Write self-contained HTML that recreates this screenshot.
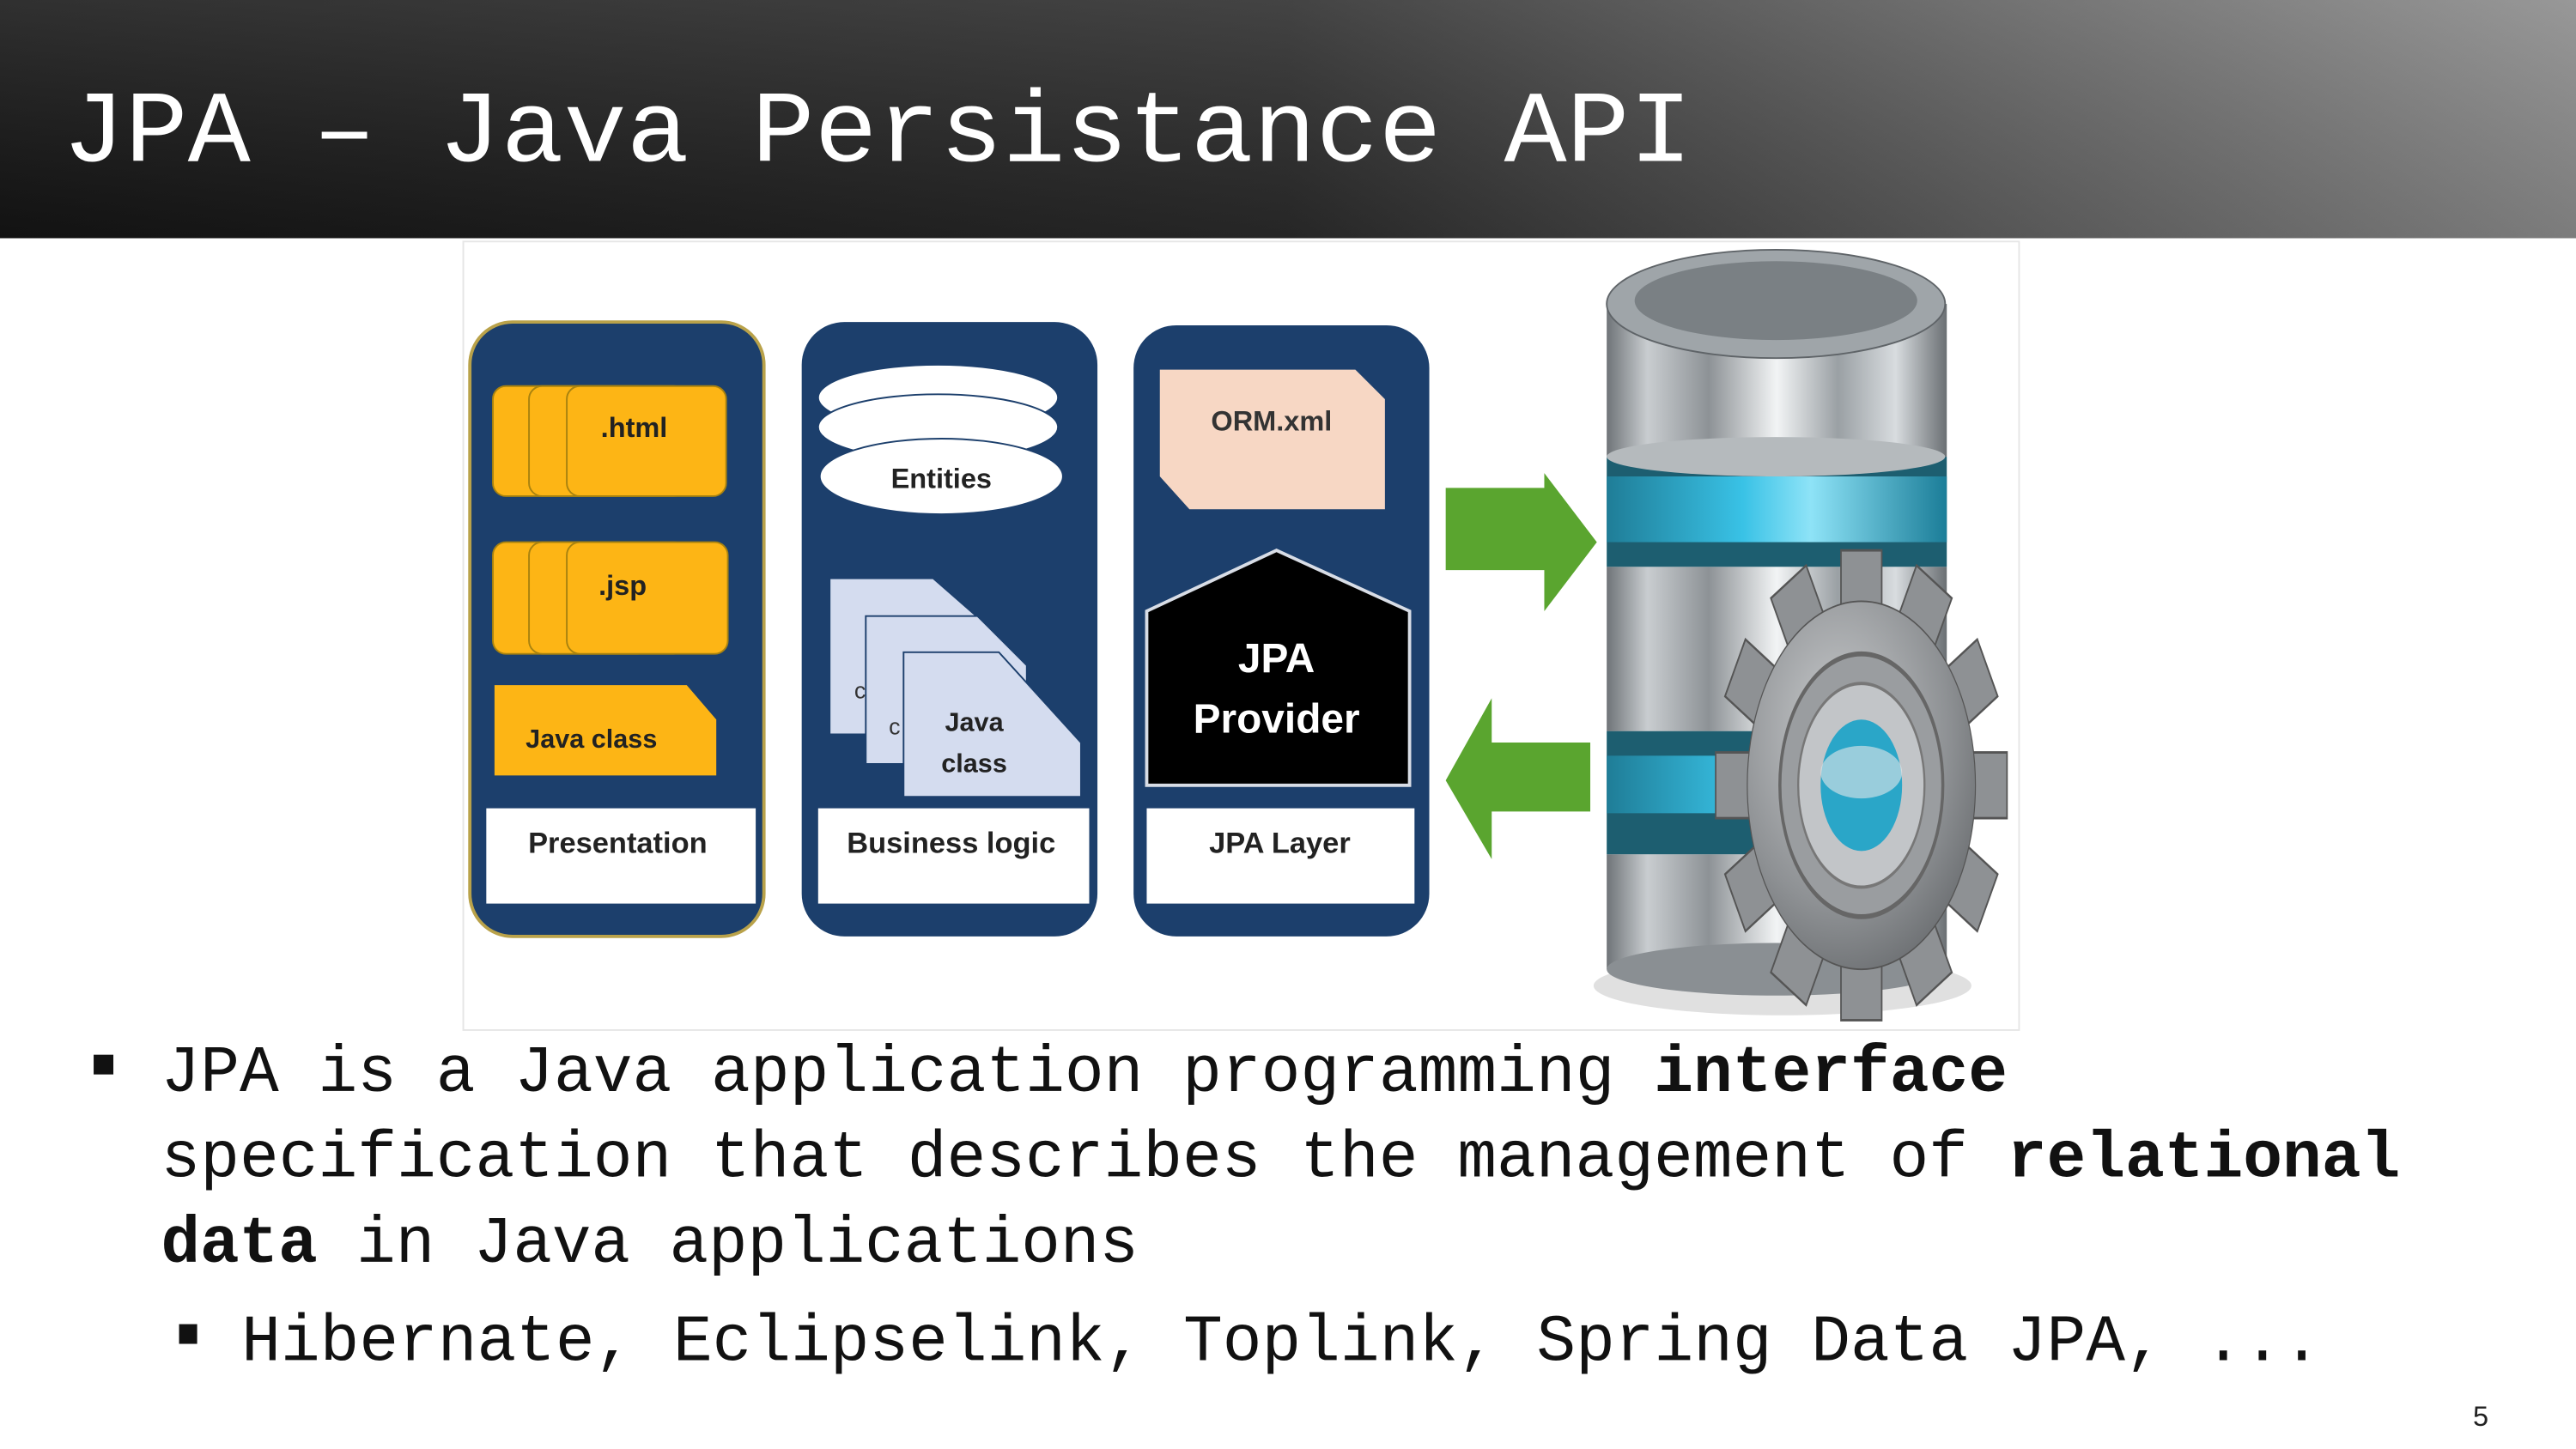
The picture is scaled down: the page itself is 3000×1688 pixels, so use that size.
<!DOCTYPE html>
<html><head><meta charset="utf-8"><style>
html,body{margin:0;padding:0;background:#fff;}
svg{display:block;}
</style></head><body>
<svg width="3000" height="1688" viewBox="0 0 1568 882" preserveAspectRatio="none" xmlns="http://www.w3.org/2000/svg">
<defs>
<linearGradient id="hdr" x1="0" y1="0" x2="1" y2="0">
<stop offset="0" stop-color="#141414"/><stop offset="0.5" stop-color="#2a2a2a"/><stop offset="1" stop-color="#8a8a8a"/>
</linearGradient>
<linearGradient id="hdrv" x1="0" y1="0" x2="0" y2="1">
<stop offset="0" stop-color="#fff" stop-opacity="0.12"/><stop offset="1" stop-color="#000" stop-opacity="0.1"/>
</linearGradient>
<linearGradient id="metal" x1="0" y1="0" x2="1" y2="0">
<stop offset="0" stop-color="#6f7478"/><stop offset="0.12" stop-color="#c9cdd0"/><stop offset="0.3" stop-color="#8d9296"/><stop offset="0.5" stop-color="#f2f4f5"/><stop offset="0.68" stop-color="#9aa0a4"/><stop offset="0.85" stop-color="#d8dcdf"/><stop offset="1" stop-color="#6a6f73"/>
</linearGradient>
<linearGradient id="blue" x1="0" y1="0" x2="1" y2="0">
<stop offset="0" stop-color="#1f7d97"/><stop offset="0.4" stop-color="#39c2e6"/><stop offset="0.6" stop-color="#8ee3f7"/><stop offset="1" stop-color="#1b7d98"/>
</linearGradient>
<radialGradient id="gear" cx="0.4" cy="0.35" r="0.8">
<stop offset="0" stop-color="#c8cacc"/><stop offset="0.6" stop-color="#8e9194"/><stop offset="1" stop-color="#5e6164"/>
</radialGradient>
</defs>
<rect width="1568" height="882" fill="#fff"/>
<rect width="1568" height="145" fill="url(#hdr)"/>
<rect width="1568" height="145" fill="url(#hdrv)"/>
<text x="38" y="98" font-family="Liberation Mono, monospace" font-size="62" fill="#fff" textLength="992" lengthAdjust="spacingAndGlyphs">JPA – Java Persistance API</text>

<rect x="282" y="147" width="947" height="480" fill="#fff" stroke="#e6e6e6" stroke-width="1"/>

<!-- panel 1 -->
<rect x="286" y="196" width="179" height="374" rx="26" fill="#1c3f6c" stroke="#b9a24a" stroke-width="2"/>
<rect x="300" y="235" width="96" height="67" rx="8" fill="#fdb515" stroke="#a8820f"/>
<rect x="322" y="235" width="96" height="67" rx="8" fill="#fdb515" stroke="#a8820f"/>
<rect x="345" y="235" width="97" height="67" rx="8" fill="#fdb515" stroke="#a8820f"/>
<text x="386" y="266" font-family="Liberation Sans, sans-serif" font-weight="bold" font-size="17" fill="#222" text-anchor="middle">.html</text>
<rect x="300" y="330" width="96" height="68" rx="8" fill="#fdb515" stroke="#a8820f"/>
<rect x="322" y="330" width="96" height="68" rx="8" fill="#fdb515" stroke="#a8820f"/>
<rect x="345" y="330" width="98" height="68" rx="8" fill="#fdb515" stroke="#a8820f"/>
<text x="379" y="362" font-family="Liberation Sans, sans-serif" font-weight="bold" font-size="17" fill="#222" text-anchor="middle">.jsp</text>
<polygon points="301,417 418,417 436,438 436,472 301,472" fill="#fdb515"/>
<text x="360" y="455" font-family="Liberation Sans, sans-serif" font-weight="bold" font-size="16" fill="#222" text-anchor="middle">Java class</text>
<rect x="296" y="492" width="164" height="58" fill="#fff"/>
<text x="376" y="519" font-family="Liberation Sans, sans-serif" font-weight="bold" font-size="18" fill="#222" text-anchor="middle">Presentation</text>

<!-- panel 2 -->
<rect x="488" y="196" width="180" height="374" rx="26" fill="#1c3f6c"/>
<ellipse cx="571" cy="242" rx="73" ry="20" fill="#fff" stroke="#1c3f6c"/>
<ellipse cx="571" cy="260" rx="73" ry="20" fill="#fff" stroke="#1c3f6c"/>
<ellipse cx="573" cy="290" rx="74" ry="23" fill="#fff" stroke="#1c3f6c"/>
<text x="573" y="297" font-family="Liberation Sans, sans-serif" font-weight="bold" font-size="17" fill="#222" text-anchor="middle">Entities</text>
<polygon points="505,352 568,352 600,380 600,447 505,447" fill="#d4dcef" stroke="#1c3f6c"/>
<polygon points="527,375 595,375 625,405 625,465 527,465" fill="#d4dcef" stroke="#1c3f6c"/>
<polygon points="550,397 608,397 658,452 658,485 550,485" fill="#d4dcef" stroke="#1c3f6c"/>
<text x="520" y="425" font-family="Liberation Sans, sans-serif" font-size="14" fill="#333">c</text>
<text x="541" y="447" font-family="Liberation Sans, sans-serif" font-size="14" fill="#333">c</text>
<text x="593" y="445" font-family="Liberation Sans, sans-serif" font-weight="bold" font-size="16" fill="#222" text-anchor="middle">Java</text>
<text x="593" y="470" font-family="Liberation Sans, sans-serif" font-weight="bold" font-size="16" fill="#222" text-anchor="middle">class</text>
<rect x="498" y="492" width="165" height="58" fill="#fff"/>
<text x="579" y="519" font-family="Liberation Sans, sans-serif" font-weight="bold" font-size="18" fill="#222" text-anchor="middle">Business logic</text>

<!-- panel 3 -->
<rect x="690" y="198" width="180" height="372" rx="26" fill="#1c3f6c"/>
<polygon points="706,225 825,225 843,243 843,310 724,310 706,290" fill="#f7d7c4"/>
<text x="774" y="262" font-family="Liberation Sans, sans-serif" font-weight="bold" font-size="17" fill="#333" text-anchor="middle">ORM.xml</text>
<polygon points="698,372 777,335 858,372 858,478 698,478" fill="#000" stroke="#d8dde6" stroke-width="2"/>
<text x="777" y="409" font-family="Liberation Sans, sans-serif" font-weight="bold" font-size="25" fill="#fff" text-anchor="middle">JPA</text>
<text x="777" y="446" font-family="Liberation Sans, sans-serif" font-weight="bold" font-size="25" fill="#fff" text-anchor="middle">Provider</text>
<rect x="698" y="492" width="163" height="58" fill="#fff"/>
<text x="779" y="519" font-family="Liberation Sans, sans-serif" font-weight="bold" font-size="18" fill="#222" text-anchor="middle">JPA Layer</text>

<!-- arrows -->
<polygon points="880,297 940,297 940,288 972,330 940,372 940,347 880,347" fill="#5aa52f"/>
<polygon points="880,475 908,425 908,452 968,452 968,494 908,494 908,523" fill="#5aa52f"/>

<!-- database -->
<ellipse cx="1085" cy="600" rx="115" ry="18" fill="#000" opacity="0.12"/>
<rect x="978" y="520" width="207" height="70" fill="url(#metal)"/>
<ellipse cx="1081" cy="590" rx="103" ry="16" fill="#8a8f93"/>
<rect x="978" y="445" width="207" height="75" fill="#1d5e70"/>
<rect x="978" y="460" width="207" height="35" fill="url(#blue)"/>
<rect x="978" y="345" width="207" height="100" fill="url(#metal)"/>
<rect x="978" y="278" width="207" height="67" fill="#1d5e70"/>
<rect x="978" y="290" width="207" height="40" fill="url(#blue)"/>
<rect x="978" y="185" width="207" height="93" fill="url(#metal)"/>
<ellipse cx="1081" cy="278" rx="103" ry="12" fill="#b5babd"/>
<ellipse cx="1081" cy="185" rx="103" ry="33" fill="#9fa5a9" stroke="#5f6468"/>
<ellipse cx="1081" cy="183" rx="86" ry="24" fill="#7a8084"/>

<!-- gear -->
<g transform="translate(1133,478) scale(0.62,1)">
<g fill="#8e9194" stroke="#555" stroke-width="1.5">
<rect x="-20" y="-143" width="40" height="40" transform="rotate(0)"/>
<rect x="-20" y="-143" width="40" height="40" transform="rotate(30)"/>
<rect x="-20" y="-143" width="40" height="40" transform="rotate(60)"/>
<rect x="-20" y="-143" width="40" height="40" transform="rotate(90)"/>
<rect x="-20" y="-143" width="40" height="40" transform="rotate(120)"/>
<rect x="-20" y="-143" width="40" height="40" transform="rotate(150)"/>
<rect x="-20" y="-143" width="40" height="40" transform="rotate(180)"/>
<rect x="-20" y="-143" width="40" height="40" transform="rotate(210)"/>
<rect x="-20" y="-143" width="40" height="40" transform="rotate(240)"/>
<rect x="-20" y="-143" width="40" height="40" transform="rotate(270)"/>
<rect x="-20" y="-143" width="40" height="40" transform="rotate(300)"/>
<rect x="-20" y="-143" width="40" height="40" transform="rotate(330)"/>
</g>
<circle cx="0" cy="0" r="112" fill="url(#gear)" stroke="#555"/>
<circle cx="0" cy="0" r="80" fill="#9a9da0" stroke="#666" stroke-width="3"/>
<circle cx="0" cy="0" r="62" fill="#c2c5c8" stroke="#777" stroke-width="2"/>
<circle cx="0" cy="0" r="40" fill="#2aa6c8"/>
<ellipse cx="0" cy="-8" rx="40" ry="16" fill="#e4e8ea" opacity="0.6"/>
</g>

<!-- bullets -->
<rect x="57" y="642" width="12" height="12" fill="#111"/>
<text x="98" y="664" font-family="Liberation Mono, monospace" font-size="40" fill="#111" textLength="1124" lengthAdjust="spacingAndGlyphs">JPA is a Java application programming <tspan font-weight="bold">interface</tspan></text>
<text x="98" y="716" font-family="Liberation Mono, monospace" font-size="40" fill="#111" textLength="1363" lengthAdjust="spacingAndGlyphs">specification that describes the management of <tspan font-weight="bold">relational</tspan></text>
<text x="98" y="768" font-family="Liberation Mono, monospace" font-size="40" fill="#111" textLength="595" lengthAdjust="spacingAndGlyphs"><tspan font-weight="bold">data</tspan> in Java applications</text>
<rect x="109" y="806" width="11" height="12" fill="#111"/>
<text x="147" y="828" font-family="Liberation Mono, monospace" font-size="40" fill="#111" textLength="1266" lengthAdjust="spacingAndGlyphs">Hibernate, Eclipselink, Toplink, Spring Data JPA, ...</text>
<text x="1510" y="868" font-family="Liberation Sans, sans-serif" font-size="17" fill="#222" text-anchor="middle">5</text>
</svg>
</body></html>
